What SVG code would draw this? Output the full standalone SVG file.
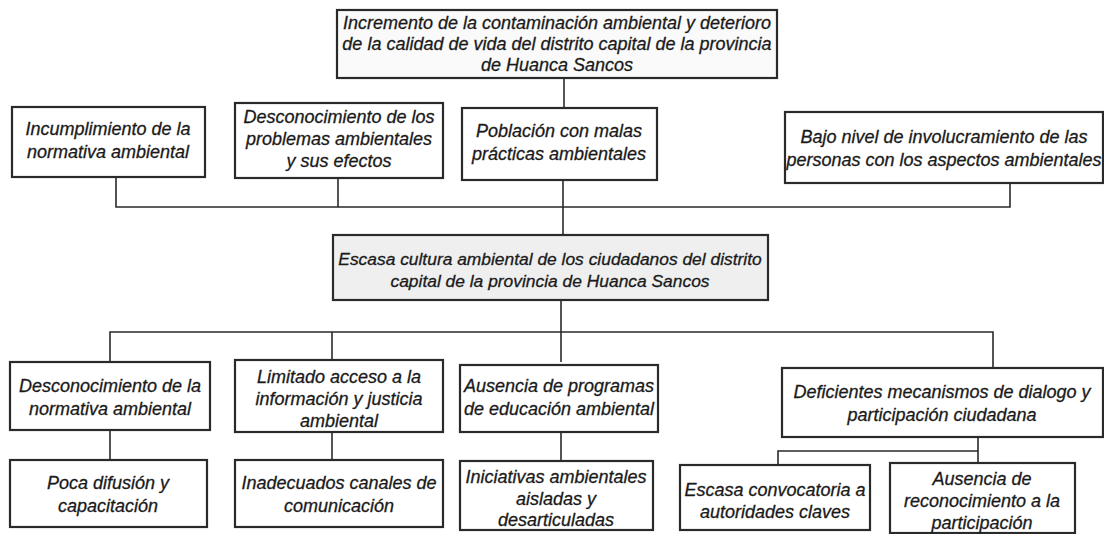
<svg xmlns="http://www.w3.org/2000/svg" width="1104" height="534" viewBox="0 0 1104 534">
<style>
.box{fill:#ffffff;stroke:#2a2a2a;stroke-width:2.2}
.gray{fill:#efefef}
.lt{fill:#fafafa}
.t{font-family:"Liberation Sans",Arial,sans-serif;font-style:italic;font-size:18px;fill:#1a1a1a;stroke:#1a1a1a;stroke-width:0.3;text-anchor:middle}
.s{font-size:17.4px}
.c{fill:none;stroke:#2a2a2a;stroke-width:1.6}
</style>
<rect width="1104" height="534" fill="#ffffff"/>
<g id="connectors">
<path class="c" d="M564 78 V108"/>
<path class="c" d="M116 177 V207 H1010 V183"/>
<path class="c" d="M338 178 V207"/>
<path class="c" d="M563 180 V235"/>
<path class="c" d="M561 300 V362"/>
<path class="c" d="M110 362 V332 H993 V368"/>
<path class="c" d="M332 360 V332"/>
<path class="c" d="M110 430 V460"/>
<path class="c" d="M332 432 V460"/>
<path class="c" d="M561 432 V461"/>
<path class="c" d="M978 437 V451 M778 465 V451 H978 V463"/>
</g>
<g id="n_top">
<rect class="box lt" x="337" y="10" width="440" height="68"/>
<text class="t" x="557" y="29">Incremento de la contaminación ambiental y deterioro</text>
<text class="t" x="557" y="50">de la calidad de vida del distrito capital de la provincia</text>
<text class="t" x="557" y="71">de Huanca Sancos</text>
</g>
<g id="n_b1">
<rect class="box" x="12" y="107" width="193" height="70"/>
<text class="t" x="108" y="135">Incumplimiento de la</text>
<text class="t" x="108" y="158">normativa ambiental</text>
</g>
<g id="n_b2">
<rect class="box" x="235" y="103" width="208" height="75"/>
<text class="t" x="339" y="123">Desconocimiento de los</text>
<text class="t" x="339" y="145">problemas ambientales</text>
<text class="t" x="339" y="167">y sus efectos</text>
</g>
<g id="n_b3">
<rect class="box" x="462" y="108" width="195" height="72"/>
<text class="t" x="559" y="137">Población con malas</text>
<text class="t" x="559" y="160">prácticas ambientales</text>
</g>
<g id="n_b4">
<rect class="box" x="785" y="112" width="318" height="71"/>
<text class="t" x="944" y="143">Bajo nivel de involucramiento de las</text>
<text class="t" x="944" y="166">personas con los aspectos ambientales</text>
</g>
<g id="n_center">
<rect class="box gray" x="333" y="235" width="435" height="65"/>
<text class="t s" x="550" y="265">Escasa cultura ambiental de los ciudadanos del distrito</text>
<text class="t s" x="550" y="287">capital de la provincia de Huanca Sancos</text>
</g>
<g id="n_c1">
<rect class="box" x="10" y="362" width="200" height="68"/>
<text class="t" x="110" y="392">Desconocimiento de la</text>
<text class="t" x="110" y="415">normativa ambiental</text>
</g>
<g id="n_c2">
<rect class="box" x="235" y="360" width="208" height="72"/>
<text class="t" x="339" y="383">Limitado acceso a la</text>
<text class="t" x="339" y="405">información y justicia</text>
<text class="t" x="339" y="427">ambiental</text>
</g>
<g id="n_c3">
<rect class="box" x="460" y="365" width="198" height="67"/>
<text class="t" x="559" y="392">Ausencia de programas</text>
<text class="t" x="559" y="415">de educación ambiental</text>
</g>
<g id="n_c4">
<rect class="box" x="782" y="368" width="321" height="69"/>
<text class="t" x="942" y="398">Deficientes mecanismos de dialogo y</text>
<text class="t" x="942" y="421">participación ciudadana</text>
</g>
<g id="n_d1">
<rect class="box" x="10" y="460" width="197" height="67"/>
<text class="t" x="108" y="489">Poca difusión y</text>
<text class="t" x="108" y="512">capacitación</text>
</g>
<g id="n_d2">
<rect class="box" x="235" y="460" width="208" height="67"/>
<text class="t" x="339" y="489">Inadecuados canales de</text>
<text class="t" x="339" y="512">comunicación</text>
</g>
<g id="n_d3">
<rect class="box" x="460" y="461" width="193" height="69"/>
<text class="t" x="556" y="483">Iniciativas ambientales</text>
<text class="t" x="556" y="505">aisladas y</text>
<text class="t" x="556" y="526">desarticuladas</text>
</g>
<g id="n_d4">
<rect class="box" x="680" y="465" width="190" height="65"/>
<text class="t" x="775" y="496">Escasa convocatoria a</text>
<text class="t" x="775" y="518">autoridades claves</text>
</g>
<g id="n_d5">
<rect class="box" x="890" y="463" width="185" height="70"/>
<text class="t" x="982" y="485">Ausencia de</text>
<text class="t" x="982" y="507">reconocimiento a la</text>
<text class="t" x="982" y="529">participación</text>
</g>
</svg>
